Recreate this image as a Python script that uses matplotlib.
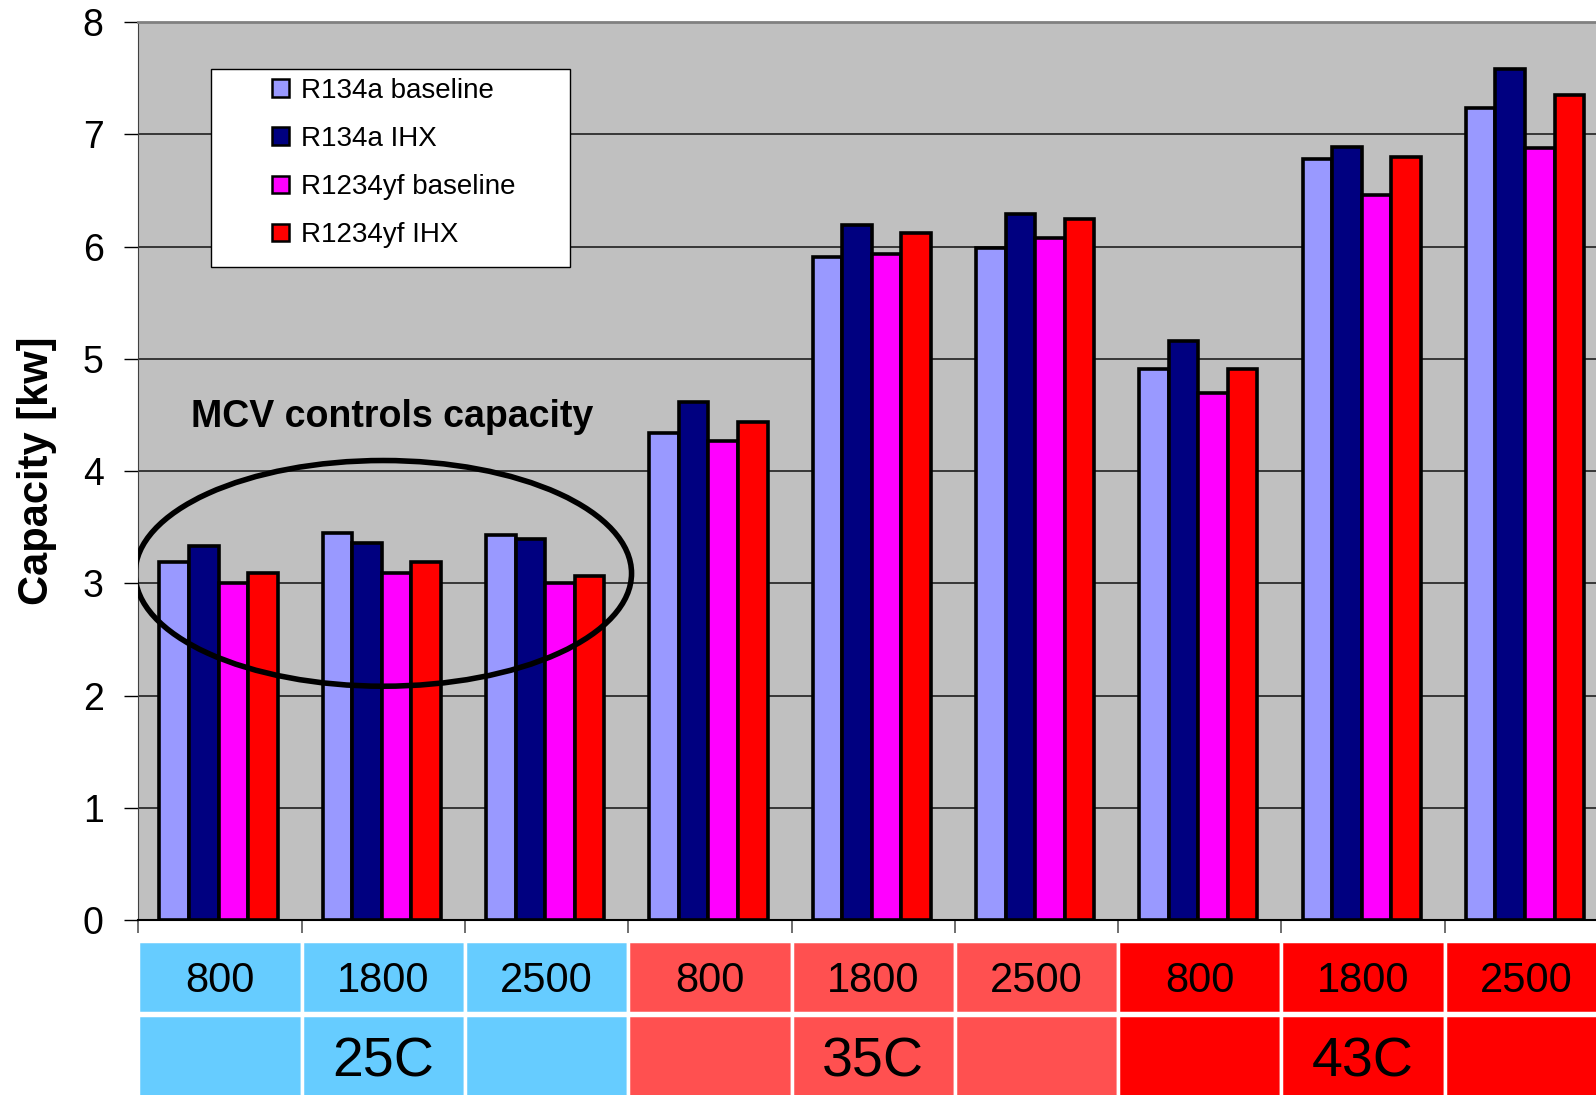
import numpy as np
import matplotlib.pyplot as plt
from matplotlib.patches import Rectangle, Ellipse
from matplotlib.transforms import blended_transform_factory

plt.rcParams['font.family'] = ['Liberation Sans', 'DejaVu Sans']

speeds = ['800', '1800', '2500', '800', '1800', '2500', '800', '1800', '2500']
temps = ['25C', '35C', '43C']
temp_colors = ['#66CCFF', '#FF5050', '#FF0000']

series = ['R134a baseline', 'R134a IHX', 'R1234yf baseline', 'R1234yf IHX']
colors = ['#9999FF', '#000080', '#FF00FF', '#FF0000']

r134a_base = [3.19, 3.45, 3.43, 4.34, 5.91, 5.99, 4.91, 6.78, 7.23]
r134a_ihx = [3.33, 3.36, 3.40, 4.62, 6.19, 6.29, 5.16, 6.89, 7.58]
r1234yf_base = [3.00, 3.09, 3.00, 4.27, 5.93, 6.08, 4.70, 6.46, 6.88]
r1234yf_ihx = [3.09, 3.19, 3.07, 4.44, 6.12, 6.25, 4.91, 6.80, 7.35]
values = [r134a_base, r134a_ihx, r1234yf_base, r1234yf_ihx]

fig = plt.figure(figsize=(15.96, 10.95), dpi=100)
ax = fig.add_axes([0.0867, 0.1595, 0.9133, 0.8204])
ax.set_facecolor('#C0C0C0')

x = np.arange(len(speeds))
w = 0.181
for i, (vals, c, lab) in enumerate(zip(values, colors, series)):
    ax.bar(x + (i - 1.5) * w - 0.009, vals, w, color=c, edgecolor='black',
           linewidth=2.6, label=lab, zorder=3)

ax.set_yticks(range(0, 9))
ax.set_xticks(np.arange(-0.5, 9, 1))
ax.set_xticklabels([])
ax.set_xlim(-0.5, 8.426)
ax.set_ylim(0, 8)
ax.yaxis.grid(True, color='#202020', linewidth=1.2, zorder=1)
ax.set_axisbelow(True)
ax.tick_params(axis='y', labelsize=27, length=10, width=1, pad=15, direction='out')
ax.tick_params(axis='x', length=9, width=1.2, color='#555555', direction='out')
ax.spines['right'].set_visible(False)
ax.spines['top'].set_color('#808080')
ax.spines['top'].set_linewidth(2)
ax.spines['left'].set_color('#404040')
ax.spines['bottom'].set_linewidth(1.5)

ax.set_ylabel('Capacity [kw]', fontsize=30, fontweight='bold')
ax.yaxis.set_label_coords(-0.056, 0.5)

# legend box
ax.add_patch(Rectangle((0.0499, 0.727), 0.2459, 0.2205, transform=ax.transAxes,
                       facecolor='white', edgecolor='black', linewidth=1, zorder=5))
leg = ax.legend(loc='upper left', bbox_to_anchor=(0.0918, 0.938), frameon=False,
                fontsize=20, handlelength=0.6, handleheight=0.6, handletextpad=0.42,
                labelspacing=0.8, borderaxespad=0, borderpad=0)
leg.set_zorder(6)
for h in leg.legend_handles:
    h.set_linewidth(1.8)

# annotation
ax.add_patch(Ellipse((1.0, 3.09), 3.04, 2.01, fill=False, edgecolor='black',
                     linewidth=4, zorder=4))
ax.text(-0.18, 4.395, 'MCV controls capacity', fontsize=27, fontweight='bold',
        ha='left', va='baseline', zorder=4)

# category table below axis
tr = blended_transform_factory(ax.transData, fig.transFigure)
for i, sp in enumerate(speeds):
    c = temp_colors[i // 3]
    ax.add_patch(Rectangle((i - 0.5, 0.0752), 1, 0.065, transform=tr, facecolor=c,
                           edgecolor='white', linewidth=2.5, clip_on=False))
    ax.add_patch(Rectangle((i - 0.5, -0.01), 1, 0.083, transform=tr, facecolor=c,
                           edgecolor='white', linewidth=2.5, clip_on=False))
    ax.text(i, 0.104, sp, transform=tr, fontsize=30, ha='center', va='center')
for j, t in enumerate(temps):
    ax.text(3 * j + 1, 0.030, t, transform=tr, fontsize=40, ha='center', va='center')

fig.savefig('out.png', dpi=100)
